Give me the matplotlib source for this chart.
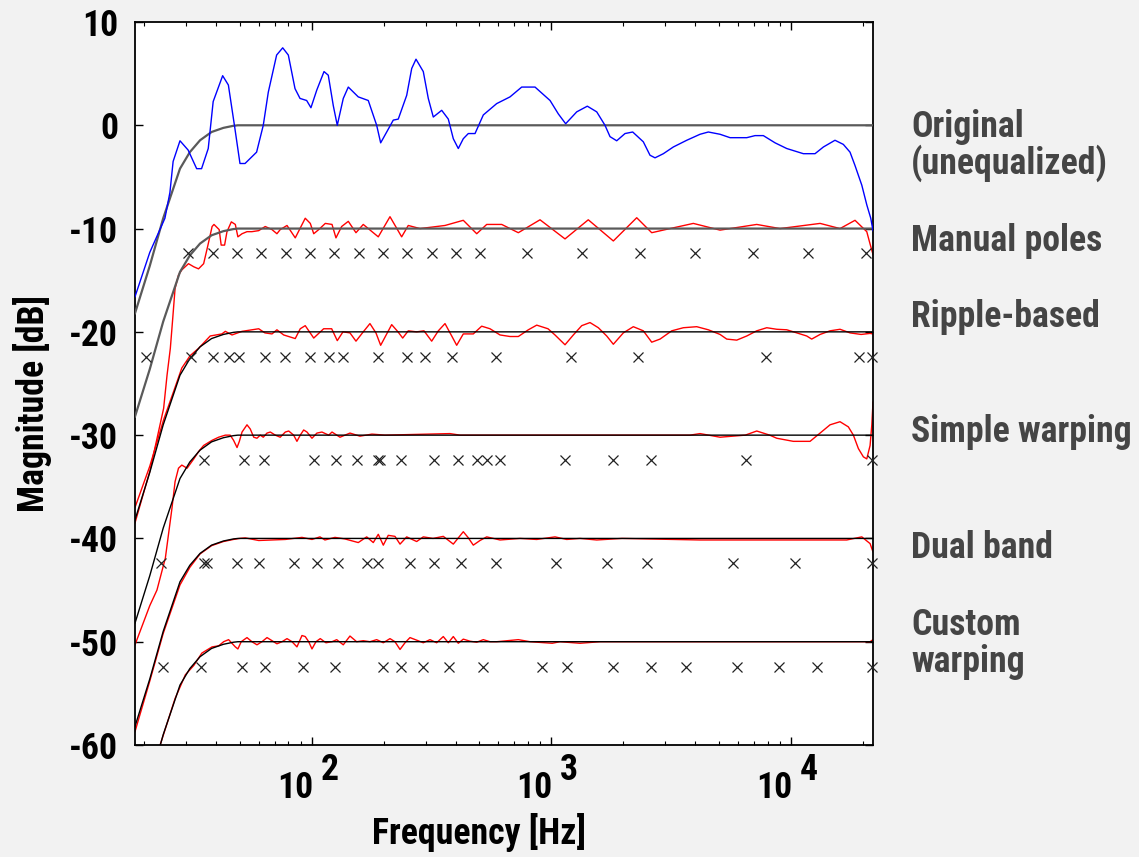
import matplotlib
matplotlib.use('Agg')
import matplotlib.pyplot as plt
from matplotlib.transforms import offset_copy

plt.rcParams['font.family'] = ['Roboto Condensed', 'Roboto', 'DejaVu Sans']
plt.rcParams['font.weight'] = 'bold'

# ---------------- data ----------------
# target response (0 dB version); shifted copies for each method
target_f = [18.3, 21.1, 24.0, 28.2, 31.0, 34.2, 38.2, 42.8, 47.1, 49.2, 22050]
target_db = [-18.2, -13.6, -9.0, -4.2, -2.6, -1.45, -0.65, -0.25, -0.05, 0.0, 0.0]
levels = [0, -10, -20, -30, -40, -50]

# original (unequalized) response
orig_f = [18.3, 21.1, 24.4, 25.6, 26.4, 28.2, 30.5, 33.1, 34.7, 37.0, 38.8, 42.5, 44.9,
          47.8, 50.2, 52.7, 58.9, 62.8, 65.9, 71.4, 75.7, 79.9, 85.2, 89.4, 95.3, 99.3,
          105, 112.6, 117.3, 123.1, 127.9, 135.5, 142.2, 156.5, 172.3, 186.8, 194.1,
          205.7, 219.1, 229.9, 249.3, 261.6, 272.6, 292.4, 306.8, 321.9, 349, 371.9,
          390.2, 409.4, 429.5, 450.7, 480.8, 520.6, 592.1, 673, 753, 856, 989, 1071,
          1149, 1278, 1415, 1549, 1677, 1760, 1877, 2033, 2189, 2424, 2585, 2713, 2939,
          3235, 3680, 4182, 4529, 5068, 5580, 6552, 7096, 7685, 8602, 9623, 11290,
          12630, 13690, 15300, 16580, 17680, 18550, 19800, 20770, 21580, 22050]
orig_db = [-16.6, -12.3, -9.0, -6.5, -3.5, -1.5, -2.4, -4.2, -4.2, -2.25, 2.3, 4.8, 3.9,
           -0.3, -3.7, -3.7, -2.6, 0.0, 3.2, 6.8, 7.5, 6.8, 3.55, 2.6, 2.4, 1.7,
           3.4, 5.2, 4.85, 1.9, 0.0, 2.6, 3.7, 2.75, 2.4, 0.0, -1.7,
           -0.65, 0.5, 0.6, 2.9, 5.5, 6.4, 5.2, 2.6, 0.8, 1.45, 0.6,
           -1.3, -2.25, -1.3, -0.8, -0.8, 1.0, 2.1, 2.75, 3.7, 3.7, 2.4, 1.1,
           0.15, 1.3, 1.85, 1.3, 0.0, -1.1, -1.5, -0.8, -0.65, -1.6, -2.9, -3.15, -2.75,
           -2.1, -1.45, -0.87, -0.65, -0.87, -1.2, -1.2, -1.0, -1.0, -1.7, -2.25, -2.75,
           -2.75, -2.1, -1.45, -1.85, -2.6, -3.9, -5.8, -7.7, -9.0, -10.2]

# equalized responses
manual_f = [18.3, 21.1, 24.1, 24.9, 25.7, 26.3, 26.9, 27.8, 28.7, 30.6, 32.2, 33.7, 35.4,
            36.9, 38.4, 39.1, 41.1, 41.9, 43.3, 44.3, 46.2, 48.0, 49.2, 51.2, 53.7, 56.3,
            60.1, 64.0, 68.3, 71.6, 73.9, 78.9, 85.4, 94.0, 98.7, 102, 107, 114, 121.6,
            126.3, 133.4, 142.2, 153.1, 164.2, 189.7, 212.3, 237.5, 253.1, 283.3, 360.3,
            429.5, 488.7, 537.9, 621.4, 729, 898, 1142, 1428, 1817, 2275, 2628, 3133,
            3920, 5068, 7211, 9022, 13260, 16060, 18550, 20770, 21440, 22050]
manual_db = [-38.5, -33.5, -27.4, -24.2, -21.6, -18.7, -15.8, -14.5, -14.0, -13.4, -13.7, -13.9, -13.4,
             -11.6, -9.8, -9.6, -10.1, -11.6, -11.6, -10.3, -9.35, -9.6, -10.8, -10.5, -10.3, -10.3,
             -10.2, -9.8, -10.1, -10.5, -10.1, -9.7, -10.9, -9.0, -9.5, -10.5, -10.1, -9.5, -9.6,
             -10.9, -9.8, -9.3, -10.4, -9.6, -10.8, -8.85, -10.8, -9.7, -10.0, -9.7,
             -9.2, -10.5, -9.6, -9.6, -10.4, -9.15, -11.0, -9.15, -11.2, -8.95, -10.4, -10.0,
             -9.5, -10.15, -9.6, -10.0, -9.5, -10.0, -9.2, -10.3, -11.5, -12.5]

ripple_f = [18.3, 21.1, 24.1, 26.5, 28.7, 31.1, 33.7, 37.7, 42.2, 43.6, 46.5, 51.2, 60.1,
            63.8, 68.3, 71.6, 76.4, 85.4, 89.6, 94.0, 102, 112.2, 121.2, 127.9, 135.1,
            144.5, 153.1, 164.2, 175.1, 185.5, 194.1, 215.8, 229.3, 239.9, 253.1, 274.4,
            294.4, 317, 337.9, 360.3, 384.3, 403.1, 429.5, 472.9, 512.6, 555.3, 611.4,
            673, 729, 802.6, 870, 969.7, 1037, 1142, 1237, 1341, 1452, 1573, 1705, 1817,
            2000, 2202, 2424, 2628, 2847, 3185, 3562, 4051, 4529, 5068, 5405, 5951, 6552,
            7211, 7940, 8742, 9623, 10600, 11660, 12230, 13260, 14590, 16060, 17680,
            19670, 21440, 22050]
ripple_db = [-37.0, -33.0, -28.5, -25.8, -23.5, -22.3, -21.6, -20.4, -20.2, -19.95, -20.3, -19.95, -19.7,
             -20.1, -20.2, -19.8, -20.3, -20.65, -19.7, -19.4, -20.6, -19.7, -19.7, -20.85, -20.0,
             -20.1, -20.9, -20.0, -19.2, -20.1, -21.3, -19.3, -20.0, -20.6, -19.9, -20.0,
             -19.9, -20.9, -19.9, -19.2, -20.4, -21.3, -20.2, -20.2, -19.45, -19.7, -20.3,
             -20.45, -20.45, -19.8, -19.35, -19.7, -20.3, -21.25, -20.3, -19.4, -19.1, -19.6, -20.4, -21.2,
             -20.1, -19.5, -19.9, -21.0, -20.7, -19.9, -19.6, -19.5, -19.8, -20.25, -20.7, -20.8, -20.4,
             -19.9, -19.6, -19.75, -19.8, -20.1, -20.4, -20.7, -20.25, -19.9, -19.75, -20.1,
             -20.25, -20.15, -20.2]

simple_f = [18.3, 21.1, 22.6, 24.5, 26.1, 26.9, 27.8, 28.7, 30.2, 32.2, 33.7, 35.4, 38.4,
            40.9, 43.6, 45.7, 47.2, 48.8, 49.9, 51.2, 53.7, 55.4, 57.3, 59.1, 61.0, 62.8,
            65.1, 67.2, 70.5, 73.9, 77.6, 80.2, 84.1, 86.8, 89.6, 92.6, 95.6, 100.3, 105.2,
            110.4, 117.8, 121.6, 131.3, 144.5, 159.1, 178.5, 202.3, 378, 416, 3797, 4182,
            5068, 6457, 7211, 8171, 8742, 10250, 12040, 13260, 14590, 16060, 17400, 18260,
            19160, 20100, 20770, 21440, 21800, 22050]
simple_db = [-50.3, -46.5, -45.0, -41.9, -37.1, -34.5, -33.2, -32.9, -33.2, -32.3, -31.6, -31.0, -30.5,
             -30.2, -30.0, -30.0, -30.5, -31.2, -30.6, -29.7, -29.0, -29.4, -30.2, -30.3, -30.0, -30.2,
             -29.8, -29.7, -30.0, -30.2, -29.7, -29.6, -30.0, -30.6, -30.0, -29.5, -29.7, -30.3, -29.8,
             -29.7, -30.0, -29.7, -30.2, -29.8, -30.1, -29.9, -30.0, -29.85, -30.0, -30.0, -29.85,
             -30.2, -30.0, -29.6, -30.0, -30.3, -30.6, -30.6, -29.8, -29.0, -28.7, -29.2, -30.0,
             -31.3, -32.1, -32.3, -31.0, -29.0, -26.8]

dual_f = [18.3, 21.1, 24.0, 28.2, 31.0, 34.2, 38.2, 42.8, 47.1, 50.0, 52.8, 60.1, 77.6,
          91.1, 100.3, 108.3, 113.6, 125.1, 137.7, 156.5, 169.7, 180.8, 189.7, 199.1, 208.8,
          222.7, 233.8, 249.3, 274.4, 292.4, 321.1, 354.4, 390.2, 429.5, 449.4, 472.9, 504.3,
          537.9, 611.4, 741, 870, 1037, 1161, 1319, 1549, 1975, 4182, 8742, 12400, 17130,
          19800, 21440, 22050]
dual_db = [-58.7, -53.8, -49.2, -44.5, -42.8, -41.5, -40.7, -40.3, -40.1, -40.0, -39.95, -40.2, -40.1,
           -39.9, -40.1, -39.85, -40.15, -39.9, -40.05, -40.4, -39.85, -40.4, -39.6, -40.65, -39.7,
           -39.8, -40.55, -39.85, -40.3, -39.85, -40.0, -39.8, -40.55, -39.35, -39.9, -40.65, -40.2,
           -39.85, -40.15, -40.0, -40.1, -39.85, -40.1, -40.0, -40.15, -40.0, -40.15, -40.15, -40.15, -40.15,
           -39.85, -40.5, -41.3]

custom_f = [23.3, 26.9, 29.7, 32.2, 34.8, 38.4, 40.9, 42.9, 45.0, 48.0, 49.2, 50.8, 53.7,
            56.3, 59.1, 62.0, 65.1, 68.3, 71.6, 75.2, 78.9, 82.8, 86.8, 91.1, 94.0, 97.2,
            100.3, 104.2, 108.6, 114.7, 121.6, 127.2, 135.5, 144.5, 154.1, 164.2, 175.1,
            186.8, 199.1, 212.3, 222.7, 233.8, 245.3, 257.3, 274.4, 292.4, 311.8, 332.5,
            354.4, 371.9, 390.2, 409.4, 429.5, 458.1, 488.7, 520.6, 555.3, 592.1, 729,
            815.5, 1010, 1088, 1319, 1599, 21440, 22050]
custom_db = [-60.0, -55.5, -53.2, -52.3, -51.1, -50.5, -50.4, -50.0, -49.8, -50.5, -50.7, -50.0, -49.6,
             -50.0, -50.3, -50.0, -49.6, -49.9, -50.2, -50.0, -49.7, -50.0, -50.5, -49.4, -49.5, -50.0,
             -50.7, -50.0, -49.7, -50.1, -50.0, -49.8, -50.3, -49.45, -50.0, -49.9, -50.0,
             -49.8, -50.1, -49.7, -50.0, -50.75, -50.1, -49.6, -49.85, -50.1, -49.8, -50.1,
             -49.5, -50.1, -49.5, -50.15, -49.75, -49.95, -50.05, -49.8, -50.0, -50.0, -49.8,
             -50.0, -50.15, -50.0, -50.15, -50.0, -50.0, -49.8]

# pole frequencies of each method
manual_poles = [30.5, 38.6, 48.6, 61.6, 77.8, 98.7, 124, 157, 199, 251, 317, 400, 506,
                795, 1349, 2348, 3998, 6961, 11850, 20600]
ripple_poles = [20.3, 31.2, 38.6, 45.2, 49.9, 63.8, 77.6, 98.4, 118.5, 135.5, 189, 250.7,
                296, 384, 588, 1209, 2297, 7910, 19220, 21900]
simple_poles = [35.4, 52.0, 63.0, 102, 126.7, 154, 189.7, 192.8, 236, 324, 409, 489, 541,
                611, 1142, 1817, 2603, 6508, 21900]
dual_poles = [23.6, 35.5, 36.4, 48.6, 60.3, 84.6, 105, 129, 171, 190, 257, 323, 419, 588,
              1047, 1705, 2504, 5759, 10390, 21900]
custom_poles = [24.0, 34.5, 51.2, 63.8, 92.0, 124.7, 199, 235, 291, 375, 518, 918, 1161,
                1817, 2603, 3655, 5967, 8966, 12880, 21900]
pole_levels = [-12.4, -22.4, -32.4, -42.4, -52.4]

side_labels = ['Original', '(unequalized)', 'Manual poles', 'Ripple-based',
               'Simple warping', 'Dual band', 'Custom', 'warping']
x_ticks = [100, 1000, 10000]
x_exps = ['2', '3', '4']
y_ticks = [10, 0, -10, -20, -30, -40, -50, -60]

# ---------------- figure ----------------
W, H = 1139, 857
fig = plt.figure(figsize=(W / 100, H / 100), dpi=100, facecolor='#f2f2f2')
ax = fig.add_axes([135 / W, 1 - 745 / H, (873 - 135) / W, (745 - 22) / H])
ax.set_facecolor('white')
ax.set_xscale('log')
ax.set_xlim(18.3, 22050)
ax.set_ylim(-60, 10)

eq_f = [manual_f, ripple_f, simple_f, dual_f, custom_f]
eq_db = [manual_db, ripple_db, simple_db, dual_db, custom_db]
poles = [manual_poles, ripple_poles, simple_poles, dual_poles, custom_poles]

for f, d in zip(eq_f, eq_db):
    ax.plot(f, d, color='#ff0000', lw=1.0, zorder=2)

for i, lv in enumerate(levels):
    col = '#5a5a5a' if i < 2 else 'black'
    lw = 1.6 if i < 2 else 1.0
    ax.plot(target_f, [v + lv for v in target_db], color=col, lw=lw, zorder=3)

ax.plot(orig_f, orig_db, color='#0000ff', lw=1.0, zorder=4)

for p, lv in zip(poles, pole_levels):
    ax.plot(p, [lv] * len(p), linestyle='none', marker='x', color='#222222',
            markersize=7.5, markeredgewidth=0.9, zorder=5, clip_on=False)

for s in ax.spines.values():
    s.set_linewidth(1.3)
ax.set_yticks(y_ticks)
ax.set_yticklabels([str(v) for v in y_ticks])
ax.set_xticks(x_ticks)
ax.set_xticklabels(['', '', ''])
ax.tick_params(which='both', direction='in', top=True, right=True)
ax.tick_params(which='major', length=6, width=1.0)
ax.tick_params(which='minor', length=3, width=0.8)
ax.tick_params(axis='y', pad=12)

FS0 = 24
texts = []
xt = ax.get_xaxis_transform()
for t, e in zip(x_ticks, x_exps):
    tr1 = offset_copy(xt, fig=fig, x=1.5, y=0, units='dots')
    texts.append(ax.text(t, -0.059, '10', transform=tr1, ha='right', va='center',
                         fontsize=FS0, fontweight='bold'))
    tr2 = offset_copy(xt, fig=fig, x=9, y=0, units='dots')
    texts.append(ax.text(t, -0.034, e, transform=tr2, ha='left', va='center',
                         fontsize=FS0, fontweight='bold'))

texts.append(fig.text(479 / W, 1 - 833 / H, 'Frequency [Hz]', ha='center', va='center',
                      fontsize=FS0, fontweight='bold'))
texts.append(fig.text(33 / W, 1 - 404 / H, 'Magnitude [dB]', ha='center', va='center',
                      rotation=90, fontsize=FS0, fontweight='bold'))

label_color = '#454545'
label_y = [127, 163, 241, 317, 432, 548, 625, 662]
named = []
for name, yy in zip(side_labels, label_y):
    t = fig.text(911 / W, 1 - yy / H, name, ha='left', va='center', fontsize=FS0,
                 fontweight='bold', color=label_color)
    texts.append(t)
    named.append(t)

# fit the font size so the widest right-hand label spans the same width as in the reference
fig.canvas.draw()
rend = fig.canvas.get_renderer()
w_sw = named[4].get_window_extent(rend).width
fs = FS0 * 221.0 / w_sw
for t in texts:
    t.set_fontsize(fs)
ax.tick_params(axis='y', labelsize=fs)
for lab in ax.get_yticklabels():
    lab.set_fontweight('bold')

fig.savefig('out.png', dpi=100, facecolor=fig.get_facecolor())
